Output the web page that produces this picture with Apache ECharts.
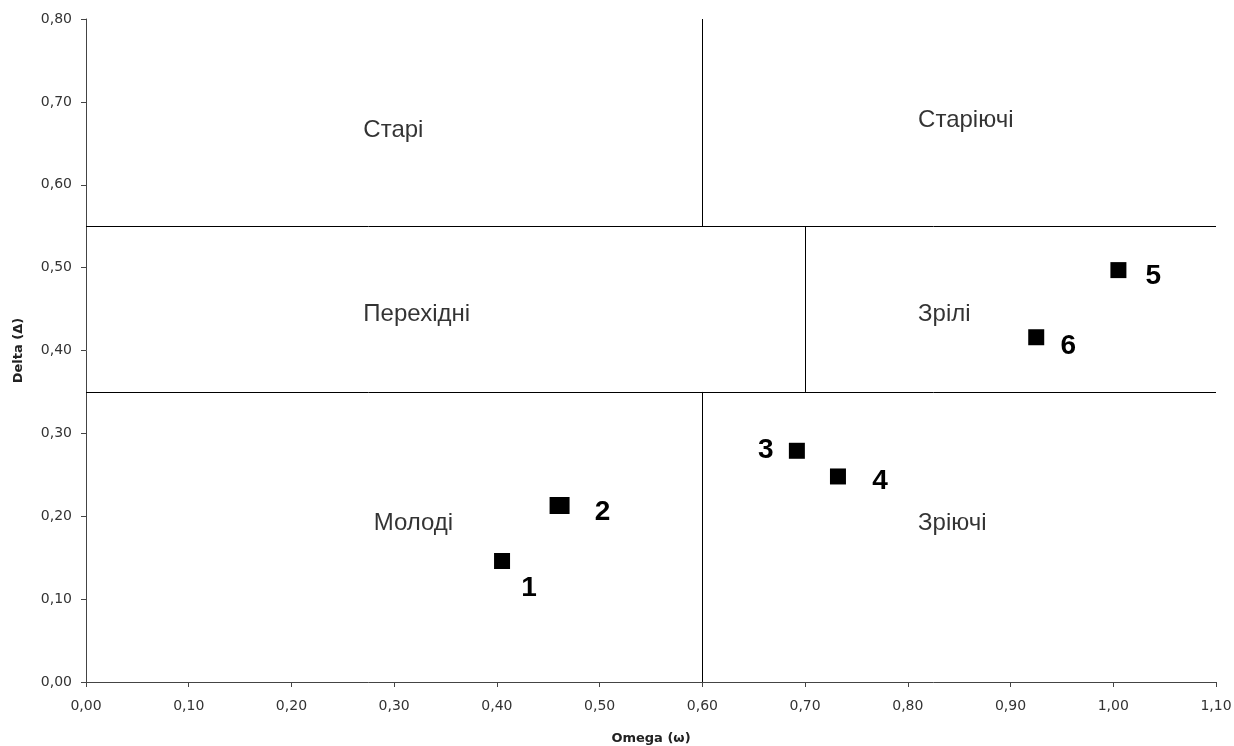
<!DOCTYPE html>
<html>
<head>
<meta charset="utf-8">
<script src="https://cdn.jsdelivr.net/npm/echarts@6/dist/echarts.min.js"></script>
<style>
  html, body { margin: 0; padding: 0; background: #fff; }
  #chart { width: 1234px; height: 746px; }
</style>
</head>
<body>
<div id="chart"></div>
<script>
// точки (номер, omega, delta)
var pointNames = ['1', '2', '3', '4', '5', '6'];
var omegaValues = [0.405, 0.461, 0.692, 0.732, 1.005, 0.925];
var deltaValues = [0.146, 0.213, 0.279, 0.248, 0.497, 0.416];

// межі зон
var omegaBounds = [0.6, 0.7];
var deltaBounds = [0.35, 0.55];

// підписи зон
var zoneNames = ['Старі', 'Старіючі', 'Перехідні', 'Зрілі', 'Молоді', 'Зріючі'];
var zoneOmega = [0.27, 0.81, 0.27, 0.81, 0.28, 0.81];
var zoneDelta = [0.666, 0.678, 0.443, 0.443, 0.192, 0.192];

var xTicks = [0, 1.1, 0.1];
var yTicks = [0, 0.8, 0.1];

// зсув номерів відносно квадратиків (px)
var labelShift = [[27, 27], [43, 7], [-31, 0], [42, 5], [35, 6], [32, 9]];

function fmt(v) {
  return v.toFixed(2).replace('.', ',');
}

var pointData = pointNames.map(function (n, i) {
  return {
    name: n,
    value: [omegaValues[i], deltaValues[i]],
    symbolSize: i === 1 ? [20, 17] : 16,
    label: { offset: labelShift[i] }
  };
});

var zoneData = zoneNames.map(function (n, i) {
  return { name: n, value: [zoneOmega[i], zoneDelta[i]] };
});

var yTop = yTicks[1];
var xRight = xTicks[1];
var boundLines = [
  [{ coord: [omegaBounds[0], 0] }, { coord: [omegaBounds[0], deltaBounds[0]] }],
  [{ coord: [omegaBounds[0], deltaBounds[1]] }, { coord: [omegaBounds[0], yTop] }],
  [{ coord: [omegaBounds[1], deltaBounds[0]] }, { coord: [omegaBounds[1], deltaBounds[1]] }],
  [{ coord: [0, deltaBounds[0]] }, { coord: [xRight, deltaBounds[0]] }],
  [{ coord: [0, deltaBounds[1]] }, { coord: [xRight, deltaBounds[1]] }]
];

var chart = echarts.init(document.getElementById('chart'));
var option = {
  animation: false,
  backgroundColor: '#fff',
  grid: { left: 86, right: 18, top: 19, bottom: 64, containLabel: false, outerBoundsMode: 'none' },
  xAxis: {
    type: 'value',
    min: xTicks[0], max: xTicks[1], interval: xTicks[2],
    name: 'Omega (ω)',
    nameLocation: 'middle',
    nameGap: 50,
    nameTextStyle: { fontFamily: 'DejaVu Sans', fontWeight: 'bold', fontSize: 13, color: '#222' },
    axisLine: { lineStyle: { color: '#444', width: 1 } },
    axisTick: { show: true, length: 5, lineStyle: { color: '#444' } },
    axisLabel: { formatter: fmt, fontFamily: 'DejaVu Sans', fontSize: 14, color: '#333', margin: 17 },
    splitLine: { show: false }
  },
  yAxis: {
    type: 'value',
    min: yTicks[0], max: yTicks[1], interval: yTicks[2],
    name: 'Delta (Δ)',
    nameLocation: 'middle',
    nameGap: 61,
    nameTextStyle: { fontFamily: 'DejaVu Sans', fontWeight: 'bold', fontSize: 13, color: '#222' },
    axisLine: { show: true, lineStyle: { color: '#444', width: 1 } },
    axisTick: { show: true, length: 5, lineStyle: { color: '#444' } },
    axisLabel: { formatter: fmt, fontFamily: 'DejaVu Sans', fontSize: 14, color: '#333', margin: 14 },
    splitLine: { show: false }
  },
  series: [
    {
      type: 'scatter',
      symbol: 'rect',
      itemStyle: { color: '#000', opacity: 1 },
      data: pointData,
      label: {
        show: true,
        position: 'inside',
        formatter: '{b}',
        fontFamily: 'Liberation Sans',
        fontWeight: 'bold',
        fontSize: 28,
        color: '#000'
      },
      markLine: {
        silent: true,
        symbol: 'none',
        label: { show: false },
        lineStyle: { color: '#000', width: 1, type: 'solid', opacity: 1 },
        data: boundLines
      },
      z: 3
    },
    {
      type: 'scatter',
      symbolSize: 0,
      silent: true,
      data: zoneData,
      label: {
        show: true,
        position: 'right',
        distance: 0,
        formatter: '{b}',
        fontFamily: 'Liberation Sans',
        fontSize: 24,
        color: '#000'
      }
    }
  ]
};
chart.setOption(option);
</script>
</body>
</html>
